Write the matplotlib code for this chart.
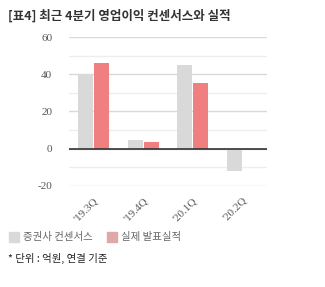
import numpy as np
import matplotlib.pyplot as plt
from matplotlib.patches import Rectangle
from matplotlib.ticker import MultipleLocator

plt.rcParams['font.family'] = ['Noto Sans CJK KR', 'DejaVu Sans']
plt.rcParams['axes.unicode_minus'] = False

quarters = ["'19.3Q", "'19.4Q", "'20.1Q", "'20.2Q"]
consensus = [40.2, 4.5, 45.0, -12.0]
actual = [46.0, 3.8, 35.5, -0.4]

gray = '#d9d9d9'
red = '#f08080'

fig = plt.figure(figsize=(3.25, 2.87), dpi=100)
ax = fig.add_axes([0.212, 0.352, 0.61, 0.519])

x = np.arange(len(quarters))
w = 0.3
ax.bar(x - w / 2 - 0.01, consensus, width=w, color=gray, zorder=3)
ax.bar(x + w / 2 + 0.01, actual, width=w, color=red, zorder=3)

ax.set_xlim(-0.5, 3.5)
ax.set_ylim(-20, 60)
ax.yaxis.set_major_locator(MultipleLocator(20))
ax.yaxis.set_minor_locator(MultipleLocator(10))
ax.grid(axis='y', which='major', color='#d9d9d9', linewidth=1, zorder=0)
ax.grid(axis='y', which='minor', color='#eeeeee', linewidth=1, zorder=0)
ax.axhline(0, color='#333333', linewidth=1.2, zorder=4)

for s in ax.spines.values():
    s.set_visible(False)
ax.tick_params(axis='both', which='both', length=0)
ax.tick_params(axis='y', labelsize=8, labelcolor='#555555', pad=12)
ax.set_xticks(x)
ax.set_xticklabels(quarters, rotation=45, ha='right', rotation_mode='anchor',
                   fontsize=8, color='#555555', family='Liberation Serif')
ax.tick_params(axis='x', pad=7)
for lab in ax.get_yticklabels():
    lab.set_family('Liberation Serif')

fig.text(0.025, 0.945, '[표4] 최근 4분기 영업이익 컨센서스와 실적', fontsize=9,
         fontweight='bold', color='#333333', va='center')

# legend
fig.patches.append(Rectangle((0.028, 0.158), 0.03, 0.033, color=gray,
                             transform=fig.transFigure, figure=fig))
fig.text(0.07, 0.174, '증권사 컨센서스', fontsize=7.5, color='#666666', va='center')
fig.patches.append(Rectangle((0.33, 0.158), 0.03, 0.033, color='#e0a8a8',
                             transform=fig.transFigure, figure=fig))
fig.text(0.372, 0.174, '실제 발표실적', fontsize=7.5, color='#666666', va='center')

fig.text(0.025, 0.1, '* 단위 : 억원, 연결 기준', fontsize=7.5, color='#222222', va='center')

fig.savefig('out.png', dpi=100)
